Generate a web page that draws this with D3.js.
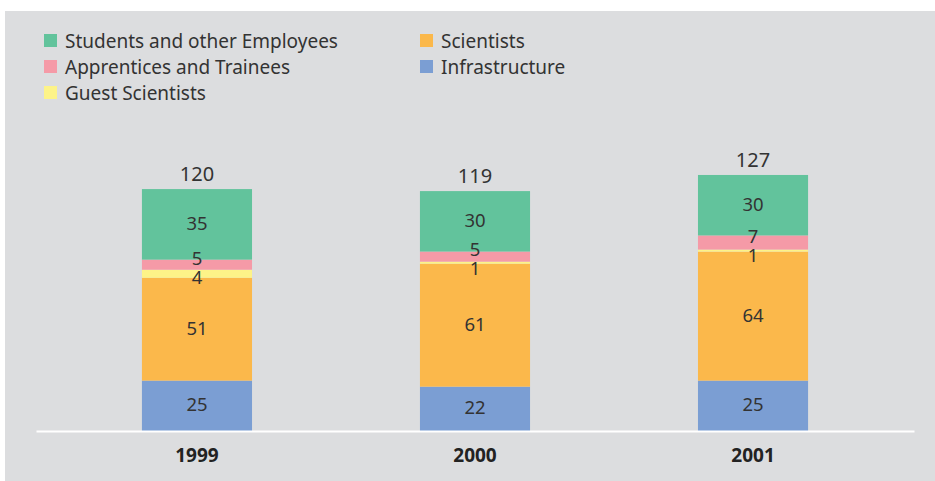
<!DOCTYPE html>
<html>
<head>
<meta charset="utf-8">
<script src="https://cdn.jsdelivr.net/npm/d3@7"></script>
<style>
  body { margin: 0; background: #ffffff; }
  text { font-family: "Noto Sans", sans-serif; fill: #333333; }
</style>
</head>
<body>
<div id="chart"></div>
<script>
// data
var years = ["1999", "2000", "2001"];
var series = ["Infrastructure", "Scientists", "Guest Scientists", "Apprentices and Trainees", "Students and other Employees"];
var infrastructure = [25, 22, 25];
var scientists = [51, 61, 64];
var guestScientists = [4, 1, 1];
var apprentices = [5, 5, 7];
var students = [35, 30, 30];
var totals = [120, 119, 127];

var colors = {
  "Infrastructure": "#7b9ed3",
  "Scientists": "#fbb84b",
  "Guest Scientists": "#fdf388",
  "Apprentices and Trainees": "#f59aa7",
  "Students and other Employees": "#62c39c"
};

var W = 935, H = 481;
var baseY = 431;

var svg = d3.select("#chart")
  .append("svg")
    .attr("width", W)
    .attr("height", H);

// grey panel
svg.append("rect")
  .attr("x", 5)
  .attr("y", 11)
  .attr("width", W - 5)
  .attr("height", H - 11)
  .attr("fill", "#dcdddf");

// build table for the stack
var table = years.map(function(y, i) {
  return {
    year: y,
    "Infrastructure": infrastructure[i],
    "Scientists": scientists[i],
    "Guest Scientists": guestScientists[i],
    "Apprentices and Trainees": apprentices[i],
    "Students and other Employees": students[i],
    total: totals[i]
  };
});

var stacked = d3.stack().keys(series)(table);

var x = d3.scaleBand()
  .domain(years)
  .range([36, 914])
  .paddingInner(0.604)
  .paddingOuter(0.381);

var y = d3.scaleLinear()
  .domain([0, 130])
  .range([baseY, baseY - 130 * 2.016]);

// bars
var layers = svg.selectAll("g.layer")
  .data(stacked)
  .enter()
  .append("g")
    .attr("class", "layer")
    .attr("fill", function(d) { return colors[d.key]; });

layers.selectAll("rect")
  .data(function(d) { return d; })
  .enter()
  .append("rect")
    .attr("x", function(d) { return x(d.data.year); })
    .attr("y", function(d) { return y(d[1]); })
    .attr("width", x.bandwidth())
    .attr("height", function(d) { return y(d[0]) - y(d[1]); });

// segment labels, pushed apart where segments are thin
years.forEach(function(yr, i) {
  var labs = stacked.map(function(s) {
    var d = s[i];
    return { v: d[1] - d[0], c: (y(d[0]) + y(d[1])) / 2 - 2 };
  });
  // top to bottom
  labs.reverse();
  var minGap = 19;
  for (var k = 1; k < labs.length; k++) {
    var gap = labs[k].c - labs[k - 1].c;
    if (gap < minGap) {
      var push = (minGap - gap) / 2;
      labs[k - 1].c -= push;
      labs[k].c += push;
    }
  }
  labs.forEach(function(l) {
    svg.append("text")
      .attr("x", x(yr) + x.bandwidth() / 2)
      .attr("y", l.c)
      .attr("text-anchor", "middle")
      .attr("dominant-baseline", "central")
      .style("font-size", "18.5px")
      .text(l.v);
  });
});

// totals
svg.selectAll("text.total")
  .data(table)
  .enter()
  .append("text")
    .attr("class", "total")
    .attr("x", function(d) { return x(d.year) + x.bandwidth() / 2; })
    .attr("y", function(d) { return y(d.total) - 8; })
    .attr("text-anchor", "middle")
    .style("font-size", "20px")
    .text(function(d) { return d.total; });

// x axis
var xAxis = svg.append("g")
  .attr("transform", "translate(0," + baseY + ")")
  .call(d3.axisBottom(x).tickSize(0).tickPadding(18).tickSizeOuter(0));

xAxis.select(".domain")
  .attr("stroke", "#ffffff")
  .attr("stroke-width", 2);

xAxis.selectAll("text")
  .style("font-family", "'Open Sans', sans-serif")
  .style("font-size", "19px")
  .style("font-weight", "bold")
  .style("fill", "#222222");

// legend
var legendItems = [
  { key: "Students and other Employees", col: 0, row: 0 },
  { key: "Scientists", col: 1, row: 0 },
  { key: "Apprentices and Trainees", col: 0, row: 1 },
  { key: "Infrastructure", col: 1, row: 1 },
  { key: "Guest Scientists", col: 0, row: 2 }
];

var legend = svg.selectAll("g.legend")
  .data(legendItems)
  .enter()
  .append("g")
    .attr("class", "legend")
    .attr("transform", function(d) {
      return "translate(" + (44 + d.col * 376) + "," + (34 + d.row * 26) + ")";
    });

legend.append("rect")
  .attr("width", 13)
  .attr("height", 13)
  .attr("fill", function(d) { return colors[d.key]; });

legend.append("text")
  .attr("x", 21)
  .attr("y", 7)
  .attr("dominant-baseline", "central")
  .style("font-size", "19px")
  .text(function(d) { return d.key; });
</script>
</body>
</html>
